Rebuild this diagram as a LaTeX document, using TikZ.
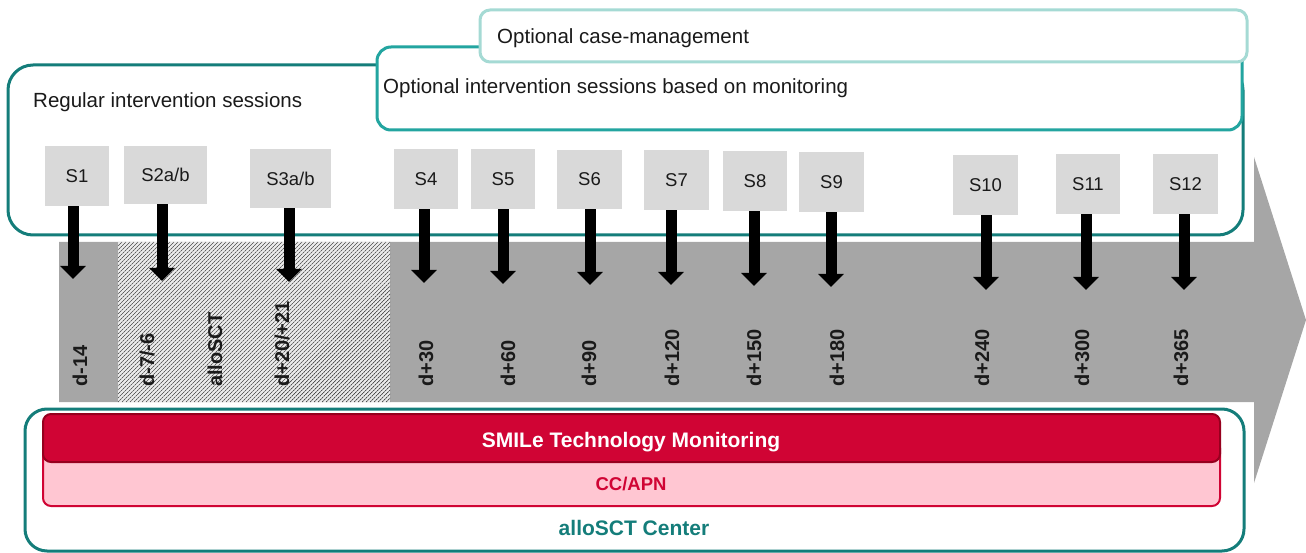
\documentclass[tikz,border=0pt]{standalone}
\usepackage{fontspec}
\setmainfont{Liberation Sans}
\usetikzlibrary{arrows.meta}
\definecolor{tealdark}{RGB}{20,125,122}
\definecolor{tealmid}{RGB}{35,165,160}
\definecolor{teallight}{RGB}{165,218,212}
\definecolor{arrowgray}{RGB}{166,166,166}
\definecolor{sgray}{RGB}{217,217,217}
\definecolor{crimson}{RGB}{208,4,52}
\definecolor{crimsondark}{RGB}{150,0,30}
\definecolor{pinkbg}{RGB}{255,198,210}
\definecolor{hatchbg}{RGB}{236,236,236}
\definecolor{txt}{RGB}{26,26,26}
\begin{document}
\begin{tikzpicture}[x=1pt,y=-1pt,
  plain/.style={inner sep=0pt, text=txt, font=\fontsize{20.5}{24}\selectfont},
  sbox/.style={fill=sgray, inner sep=0pt, text=txt, font=\fontsize{18.5}{22}\selectfont},
  sarrow/.style={draw=black, line width=11pt, -{Triangle[width=25pt,length=13pt]}},
  datelbl/.style={rotate=90, anchor=west, inner sep=0pt, text=txt, font=\bfseries\fontsize{20}{24}\selectfont},
  hatchline/.style={draw=black!75, line width=0.7pt, dash pattern=on 2pt off 0.6pt},
  container/.style={line width=3pt, fill=white},
  ]
\useasboundingbox (0,0) rectangle (1306,553);

% top containers
\draw[container, draw=tealdark, rounded corners=25pt] (8,65) rectangle (1243,235);
\draw[container, draw=tealmid, rounded corners=14pt] (377,47) rectangle (1242,130);
\draw[container, draw=teallight, rounded corners=10pt] (480,10) rectangle (1247,62);

\node[plain, anchor=base west] (regular) at (33,108) {Regular intervention sessions};
\node[plain, anchor=base west] (optint) at (383,94) {Optional intervention sessions based on monitoring};
\node[plain, anchor=base west] (optcase) at (497,44) {Optional case-management};

% big gray arrow
\fill[arrowgray] (59,242) -- (1254,242) -- (1254,157) -- (1306,320) -- (1254,483) -- (1254,402) -- (59,402) -- cycle;

% hatched alloSCT period
\fill[hatchbg] (118,242) rectangle (390,402);
\begin{scope}
  \clip (118,242) rectangle (390,402);
  \foreach \k in {-41,...,68} \draw[hatchline] ({118+4*\k},402) -- ({278+4*\k},242);
\end{scope}

% date labels
\node[datelbl] (dm14) at (80,387) {d-14};
\node[datelbl] (dm7) at (147,387) {d-7/-6};
\node[datelbl] (dsct) at (215,387) {alloSCT};
\node[datelbl] (dp20) at (282,387) {d+20/+21};
\node[datelbl] (dp30) at (426,387) {d+30};
\node[datelbl] (dp60) at (508,387) {d+60};
\node[datelbl] (dp90) at (589,387) {d+90};
\node[datelbl] (dp120) at (672,387) {d+120};
\node[datelbl] (dp150) at (754,387) {d+150};
\node[datelbl] (dp180) at (837,387) {d+180};
\node[datelbl] (dp240) at (982,387) {d+240};
\node[datelbl] (dp300) at (1082,387) {d+300};
\node[datelbl] (dp365) at (1181,387) {d+365};

% session boxes
\node[sbox, minimum width=64pt, minimum height=60pt] (s1) at (77,176) {S1};
\node[sbox, minimum width=83pt, minimum height=58pt] (s2) at (165.5,175) {S2a/b};
\node[sbox, minimum width=81pt, minimum height=59pt] (s3) at (290.5,178.5) {S3a/b};
\node[sbox, minimum width=64pt, minimum height=60pt] (s4) at (426,179) {S4};
\node[sbox, minimum width=64pt, minimum height=60pt] (s5) at (503,179) {S5};
\node[sbox, minimum width=65pt, minimum height=59pt] (s6) at (589.5,179.5) {S6};
\node[sbox, minimum width=65pt, minimum height=60pt] (s7) at (676.5,180) {S7};
\node[sbox, minimum width=64pt, minimum height=60pt] (s8) at (755,181) {S8};
\node[sbox, minimum width=65pt, minimum height=60pt] (s9) at (831.5,182) {S9};
\node[sbox, minimum width=65pt, minimum height=60pt] (s10) at (985.5,185) {S10};
\node[sbox, minimum width=64pt, minimum height=60pt] (s11) at (1088,184) {S11};
\node[sbox, minimum width=65pt, minimum height=60pt] (s12) at (1185.5,184) {S12};

% arrow tips
\coordinate (t1) at (73,279);
\coordinate (t2) at (162,281);
\coordinate (t3) at (289,282);
\coordinate (t4) at (424,283);
\coordinate (t5) at (503,284);
\coordinate (t6) at (590,285);
\coordinate (t7) at (671,285);
\coordinate (t8) at (754,286);
\coordinate (t9) at (831,287);
\coordinate (t10) at (986,290);
\coordinate (t11) at (1086,290);
\coordinate (t12) at (1184,290);

\foreach \i in {1,...,12} \draw[sarrow] (s\i.south -| t\i) -- (t\i);

% bottom container
\draw[container, draw=tealdark, rounded corners=22pt] (25,409) rectangle (1244,551);
\draw[draw=crimson, line width=2pt, fill=pinkbg, rounded corners=8pt] (43,440) rectangle (1220,506);
\draw[draw=crimsondark, line width=2pt, fill=crimson, rounded corners=8pt] (43,414) rectangle (1220,462);

\node[anchor=base, inner sep=0pt, text=white, font=\bfseries\fontsize{21}{24}\selectfont] (smile) at (631,447) {SMILe Technology Monitoring};
\node[anchor=base, inner sep=0pt, text=crimson, font=\bfseries\fontsize{18.5}{22}\selectfont] (ccapn) at (631,490) {CC/APN};
\node[anchor=base, inner sep=0pt, text=tealdark, font=\bfseries\fontsize{21}{24}\selectfont] (center) at (634,535) {alloSCT Center};
\end{tikzpicture}
\end{document}
